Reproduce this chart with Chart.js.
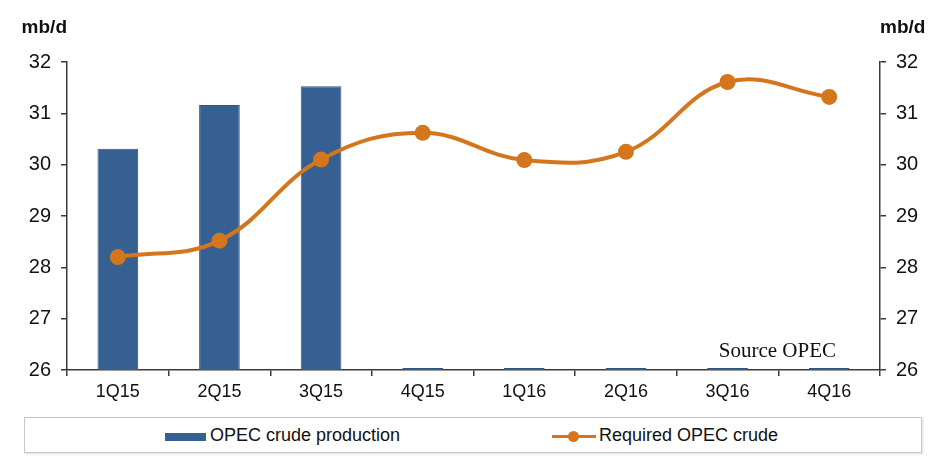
<!DOCTYPE html>
<html>
<head>
<meta charset="utf-8">
<script src="https://cdn.jsdelivr.net/npm/chart.js@4/dist/chart.umd.min.js"></script>
<style>
  body { margin: 0; background: #fff; font-family: "Liberation Sans", Arial, sans-serif; }
  #wrap { position: relative; width: 950px; height: 460px; }
  #box { position: absolute; left: 0; top: 0; width: 950px; height: 410px; }
  #legend { position: absolute; left: 24px; top: 417px; width: 896px; height: 34px;
            border: 1px solid #c8c8c8; box-shadow: 1px 1px 2px #ddd; }
  .item { position: absolute; top: 0; height: 34px; line-height: 34px; font-size: 18px; color: #111; }
  .sw { position: absolute; }
</style>
</head>
<body>
<div id="wrap">
  <div id="box"><canvas id="oilChart"></canvas></div>
  <div id="legend">
    <div class="sw" style="left:140px;top:15px;width:41px;height:8px;background:#365f92"></div>
    <div class="item" style="left:185px">OPEC crude production</div>
    <div class="sw" style="left:527px;top:17px;width:44px;height:3px;background:#d4761e"></div>
    <div class="sw" style="left:543px;top:13px;width:11px;height:11px;border-radius:50%;background:#d4761e"></div>
    <div class="item" style="left:574px">Required OPEC crude</div>
  </div>
</div>
<script>
// 분기 라벨
var quarters = ['1Q15', '2Q15', '3Q15', '4Q15', '1Q16', '2Q16', '3Q16', '4Q16'];
// OPEC 생산량 (mb/d)
var production = [30.31, 31.16, 31.53, 26.04, 26.04, 26.04, 26.04, 26.04];
// 필요 OPEC 원유 (mb/d)
var required = [28.20, 28.52, 30.10, 30.62, 30.09, 30.25, 31.61, 31.32];
// y축 눈금
var yTicks = [26, 27, 28, 29, 30, 31, 32];

var axisColor = '#3a3a3a';
var fontFam = '"Liberation Sans", Arial, sans-serif';

// 단위, 출처 글자 그리기
var extraText = {
    id: 'extraText',
    afterDraw: function(chart) {
        var c = chart.ctx, a = chart.chartArea;
        c.save();
        c.fillStyle = '#111';
        c.font = 'bold 19px ' + fontFam;
        c.textBaseline = 'middle';
        c.textAlign = 'right';
        c.fillText('mb/d', a.left, 28);
        c.textAlign = 'left';
        c.fillText('mb/d', a.right, 28);
        c.font = '21px "Liberation Serif", "Times New Roman", serif';
        c.textAlign = 'right';
        c.textBaseline = 'alphabetic';
        c.fillText('Source OPEC', a.right - 44, a.bottom - 13);
        c.restore();
    }
};

function yAxis(pos) {
    return {
        type: 'linear',
        position: pos,
        min: yTicks[0],
        max: yTicks[yTicks.length - 1],
        afterBuildTicks: function(s) { s.ticks = yTicks.map(function(v) { return { value: v }; }); },
        afterFit: function(s) { s.width = pos == 'left' ? 67 : 70; },
        border: { display: true, color: axisColor, width: 1.5 },
        grid: { drawOnChartArea: false, drawTicks: true, tickLength: 6, color: axisColor, lineWidth: 1.5 },
        ticks: { color: '#111', padding: 10, font: { family: fontFam, size: 20 } }
    };
}

const ctx = document.getElementById('oilChart').getContext('2d');
const oilChart = new Chart(ctx, {
    type: 'bar',
    data: {
        labels: quarters,
        datasets: [ {
            type: 'line',
            label: 'Required OPEC crude',
            data: required,
            yAxisID: 'y1',
            order: 1,
            borderColor: '#d4761e',
            backgroundColor: '#d4761e',
            borderWidth: 4,
            tension: 0.4,
            pointRadius: 8,
            pointBorderWidth: 0,
            pointBackgroundColor: '#d4761e'
        }, {
            label: 'OPEC crude production',
            data: production,
            yAxisID: 'y',
            order: 2,
            backgroundColor: '#365f92',
            borderColor: '#2f5583',
            borderWidth: 1,
            categoryPercentage: 1,
            barPercentage: 0.4
        } ]
    },
    plugins: [extraText],
    options: {
        responsive: true,
        maintainAspectRatio: false,
        animation: false,
        layout: { padding: { top: 62, left: 0, right: 0, bottom: 0 } },
        plugins: { legend: { display: false }, tooltip: { enabled: false } },
        scales: {
            x: {
                offset: true,
                afterFit: function(s) { s.height = 40; },
                border: { display: true, color: axisColor, width: 1.5 },
                grid: { offset: true, drawOnChartArea: false, drawTicks: true, tickLength: 6, color: axisColor, lineWidth: 1.5 },
                ticks: { color: '#111', padding: 5, font: { family: fontFam, size: 18 } }
            },
            y: yAxis('left'),
            y1: yAxis('right')
        }
    }
});
</script>
</body>
</html>
